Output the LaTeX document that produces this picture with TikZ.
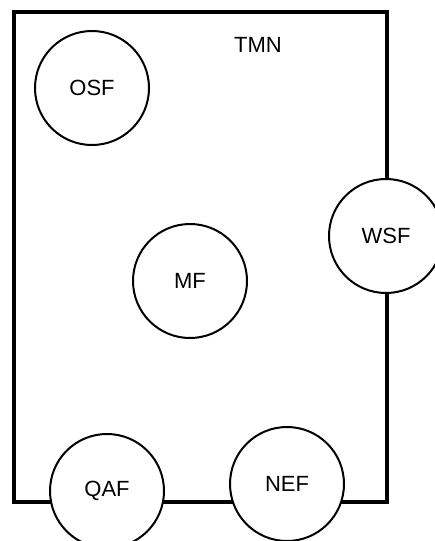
\documentclass[tikz,border=0pt]{standalone}
\usepackage{fontspec}
\setmainfont{Liberation Sans}
\begin{document}
\begin{tikzpicture}[x=1pt,y=-1pt,
  frame/.style={line width=4.2pt,line join=miter},
  func/.style={circle,draw,line width=2pt,fill=white,minimum size=114pt,inner sep=0pt,
    font=\fontsize{22}{26}\selectfont},
  title/.style={font=\fontsize{22}{26}\selectfont}]
  % page area
  \clip (0,0) rectangle (435,541);
  \fill[white] (0,0) rectangle (435,541);
  % corners of the TMN boundary
  \coordinate (tl) at (14,12);
  \coordinate (tr) at (387,12);
  \coordinate (br) at (387,502);
  \coordinate (bl) at (14,502);
  \draw[frame] (tl) -- (tr) -- (br) -- (bl) -- cycle;
  % function blocks
  \node[title] (tmn) at (258,45) {TMN};
  \node[func] (osf) at (92,88) {OSF};
  \node[func] (mf)  at (190,281) {MF};
  \node[func] (wsf) at (386,236) {WSF};
  \node[func] (qaf) at (107,491) {QAF};
  \node[func] (nef) at (287,484) {NEF};
\end{tikzpicture}
\end{document}
